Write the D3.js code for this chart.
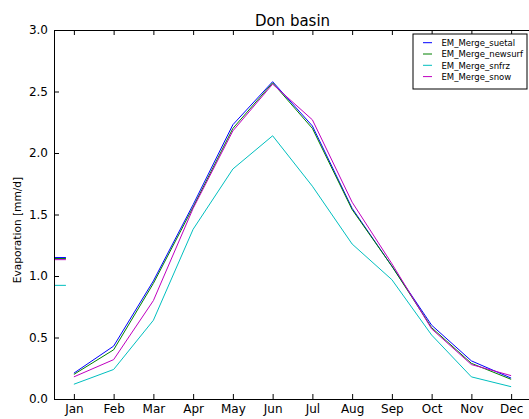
<!DOCTYPE html>
<html>
<head>
<meta charset="utf-8">
<script src="https://cdn.jsdelivr.net/npm/d3@7"></script>
<style>
body { margin: 0; background: #fff; overflow: hidden; }
text { font-family: 'DejaVu Sans', sans-serif; }
</style>
</head>
<body>
<div class="chart"></div>
<script>
let title = 'Don basin'
let yLabel = 'Evaporation [mm/d]'

let months = ['Jan', 'Feb', 'Mar', 'Apr', 'May', 'Jun', 'Jul', 'Aug', 'Sep', 'Oct', 'Nov', 'Dec']
let seriesNames = ['EM_Merge_suetal', 'EM_Merge_newsurf', 'EM_Merge_snfrz', 'EM_Merge_snow']
let suetal  = [0.21, 0.43, 0.96, 1.58, 2.23, 2.58, 2.22, 1.55, 1.08, 0.60, 0.31, 0.17]
let newsurf = [0.20, 0.40, 0.94, 1.56, 2.20, 2.57, 2.20, 1.54, 1.08, 0.58, 0.29, 0.16]
let snfrz   = [0.12, 0.24, 0.64, 1.38, 1.87, 2.14, 1.73, 1.26, 0.97, 0.52, 0.18, 0.10]
let snow    = [0.18, 0.32, 0.80, 1.55, 2.18, 2.56, 2.27, 1.60, 1.10, 0.57, 0.28, 0.19]
// annual means, drawn as short marks at the left edge
let annualMeans = [1.150, 1.142, 0.924, 1.133]
let yTicks = [0.0, 0.5, 1.0, 1.5, 2.0, 2.5, 3.0]

const width = 529
const height = 419
const margin = { top: 30, left: 54, bottom: 20 }
const plotRight = 531

let colors = ['#0000ff', '#008000', '#00bfbf', '#bf00bf']
let allSeries = [suetal, newsurf, snfrz, snow]

let svg = d3.select('.chart')
	.append('svg')
	.attr('width', width)
	.attr('height', height)

let x = d3.scaleLinear()
	.domain([0.5, 12.5])
	.range([margin.left, plotRight])

let y = d3.scaleLinear()
	.domain([0, 3])
	.range([height - margin.bottom, margin.top])

svg.append('clipPath').attr('id', 'clip')
	.append('rect')
	.attr('x', margin.left)
	.attr('y', margin.top)
	.attr('width', plotRight - margin.left)
	.attr('height', y(0) - margin.top)

let plot = svg.append('g').attr('clip-path', 'url(#clip)')

let line = d3.line()
	.x((d, i) => x(i + 1))
	.y((d) => y(d))

allSeries.forEach((s, k) => {
	plot.append('path')
		.datum(s)
		.attr('fill', 'none')
		.attr('stroke', colors[k])
		.attr('stroke-width', 1)
		.attr('d', line)

	plot.append('line')
		.attr('x1', x(0.5))
		.attr('x2', x(0.8))
		.attr('y1', y(annualMeans[k]))
		.attr('y2', y(annualMeans[k]))
		.attr('stroke', colors[k])
		.attr('stroke-width', 1)
})

// axes, matplotlib classic style: ticks pointing inward
let xBottom = svg.append('g')
	.attr('transform', 'translate(0,' + y(0) + ')')
	.call(d3.axisBottom(x).tickValues(d3.range(1, 13)).tickFormat((d) => months[d - 1]).tickSizeInner(-5).tickSizeOuter(0).tickPadding(5))

let xTop = svg.append('g')
	.attr('transform', 'translate(0,' + y(3) + ')')
	.call(d3.axisTop(x).tickValues(d3.range(1, 13)).tickFormat('').tickSizeInner(-5).tickSizeOuter(0))

let yLeft = svg.append('g')
	.attr('transform', 'translate(' + margin.left + ',0)')
	.call(d3.axisLeft(y).tickValues(yTicks).tickFormat(d3.format('.1f')).tickSizeInner(-5).tickSizeOuter(0).tickPadding(6))

;[xBottom, xTop, yLeft].forEach((g) => {
	g.select('.domain').attr('stroke', '#000').attr('stroke-width', 1)
	g.selectAll('.tick line').attr('stroke', '#000')
	g.selectAll('.tick text').attr('font-size', 12).attr('fill', '#000')
		.style('font-family', "'DejaVu Sans', sans-serif")
})

svg.append('text')
	.attr('x', (margin.left + plotRight) / 2)
	.attr('y', 26)
	.attr('text-anchor', 'middle')
	.attr('font-size', 15)
	.text(title)

svg.append('text')
	.attr('transform', 'translate(21,230) rotate(-90)')
	.attr('text-anchor', 'middle')
	.attr('font-size', 10.6)
	.text(yLabel)

// legend
let legend = svg.append('g')
	.attr('transform', 'translate(413,34)')

legend.append('rect')
	.attr('width', 114)
	.attr('height', 55)
	.attr('fill', '#fff')
	.attr('stroke', '#000')
	.attr('stroke-width', 1)

let item = legend.selectAll('.legend-item')
	.data(seriesNames)
	.enter()
	.append('g')
	.attr('class', 'legend-item')
	.attr('transform', (d, i) => 'translate(0,' + (8.7 + i * 11.3) + ')')

item.append('line')
	.attr('x1', 10)
	.attr('x2', 19)
	.attr('stroke', (d, i) => colors[i])
	.attr('stroke-width', 1)

item.append('text')
	.attr('x', 28.5)
	.attr('y', 3.2)
	.attr('font-size', 8.5)
	.text((d) => d)
</script>
</body>
</html>
